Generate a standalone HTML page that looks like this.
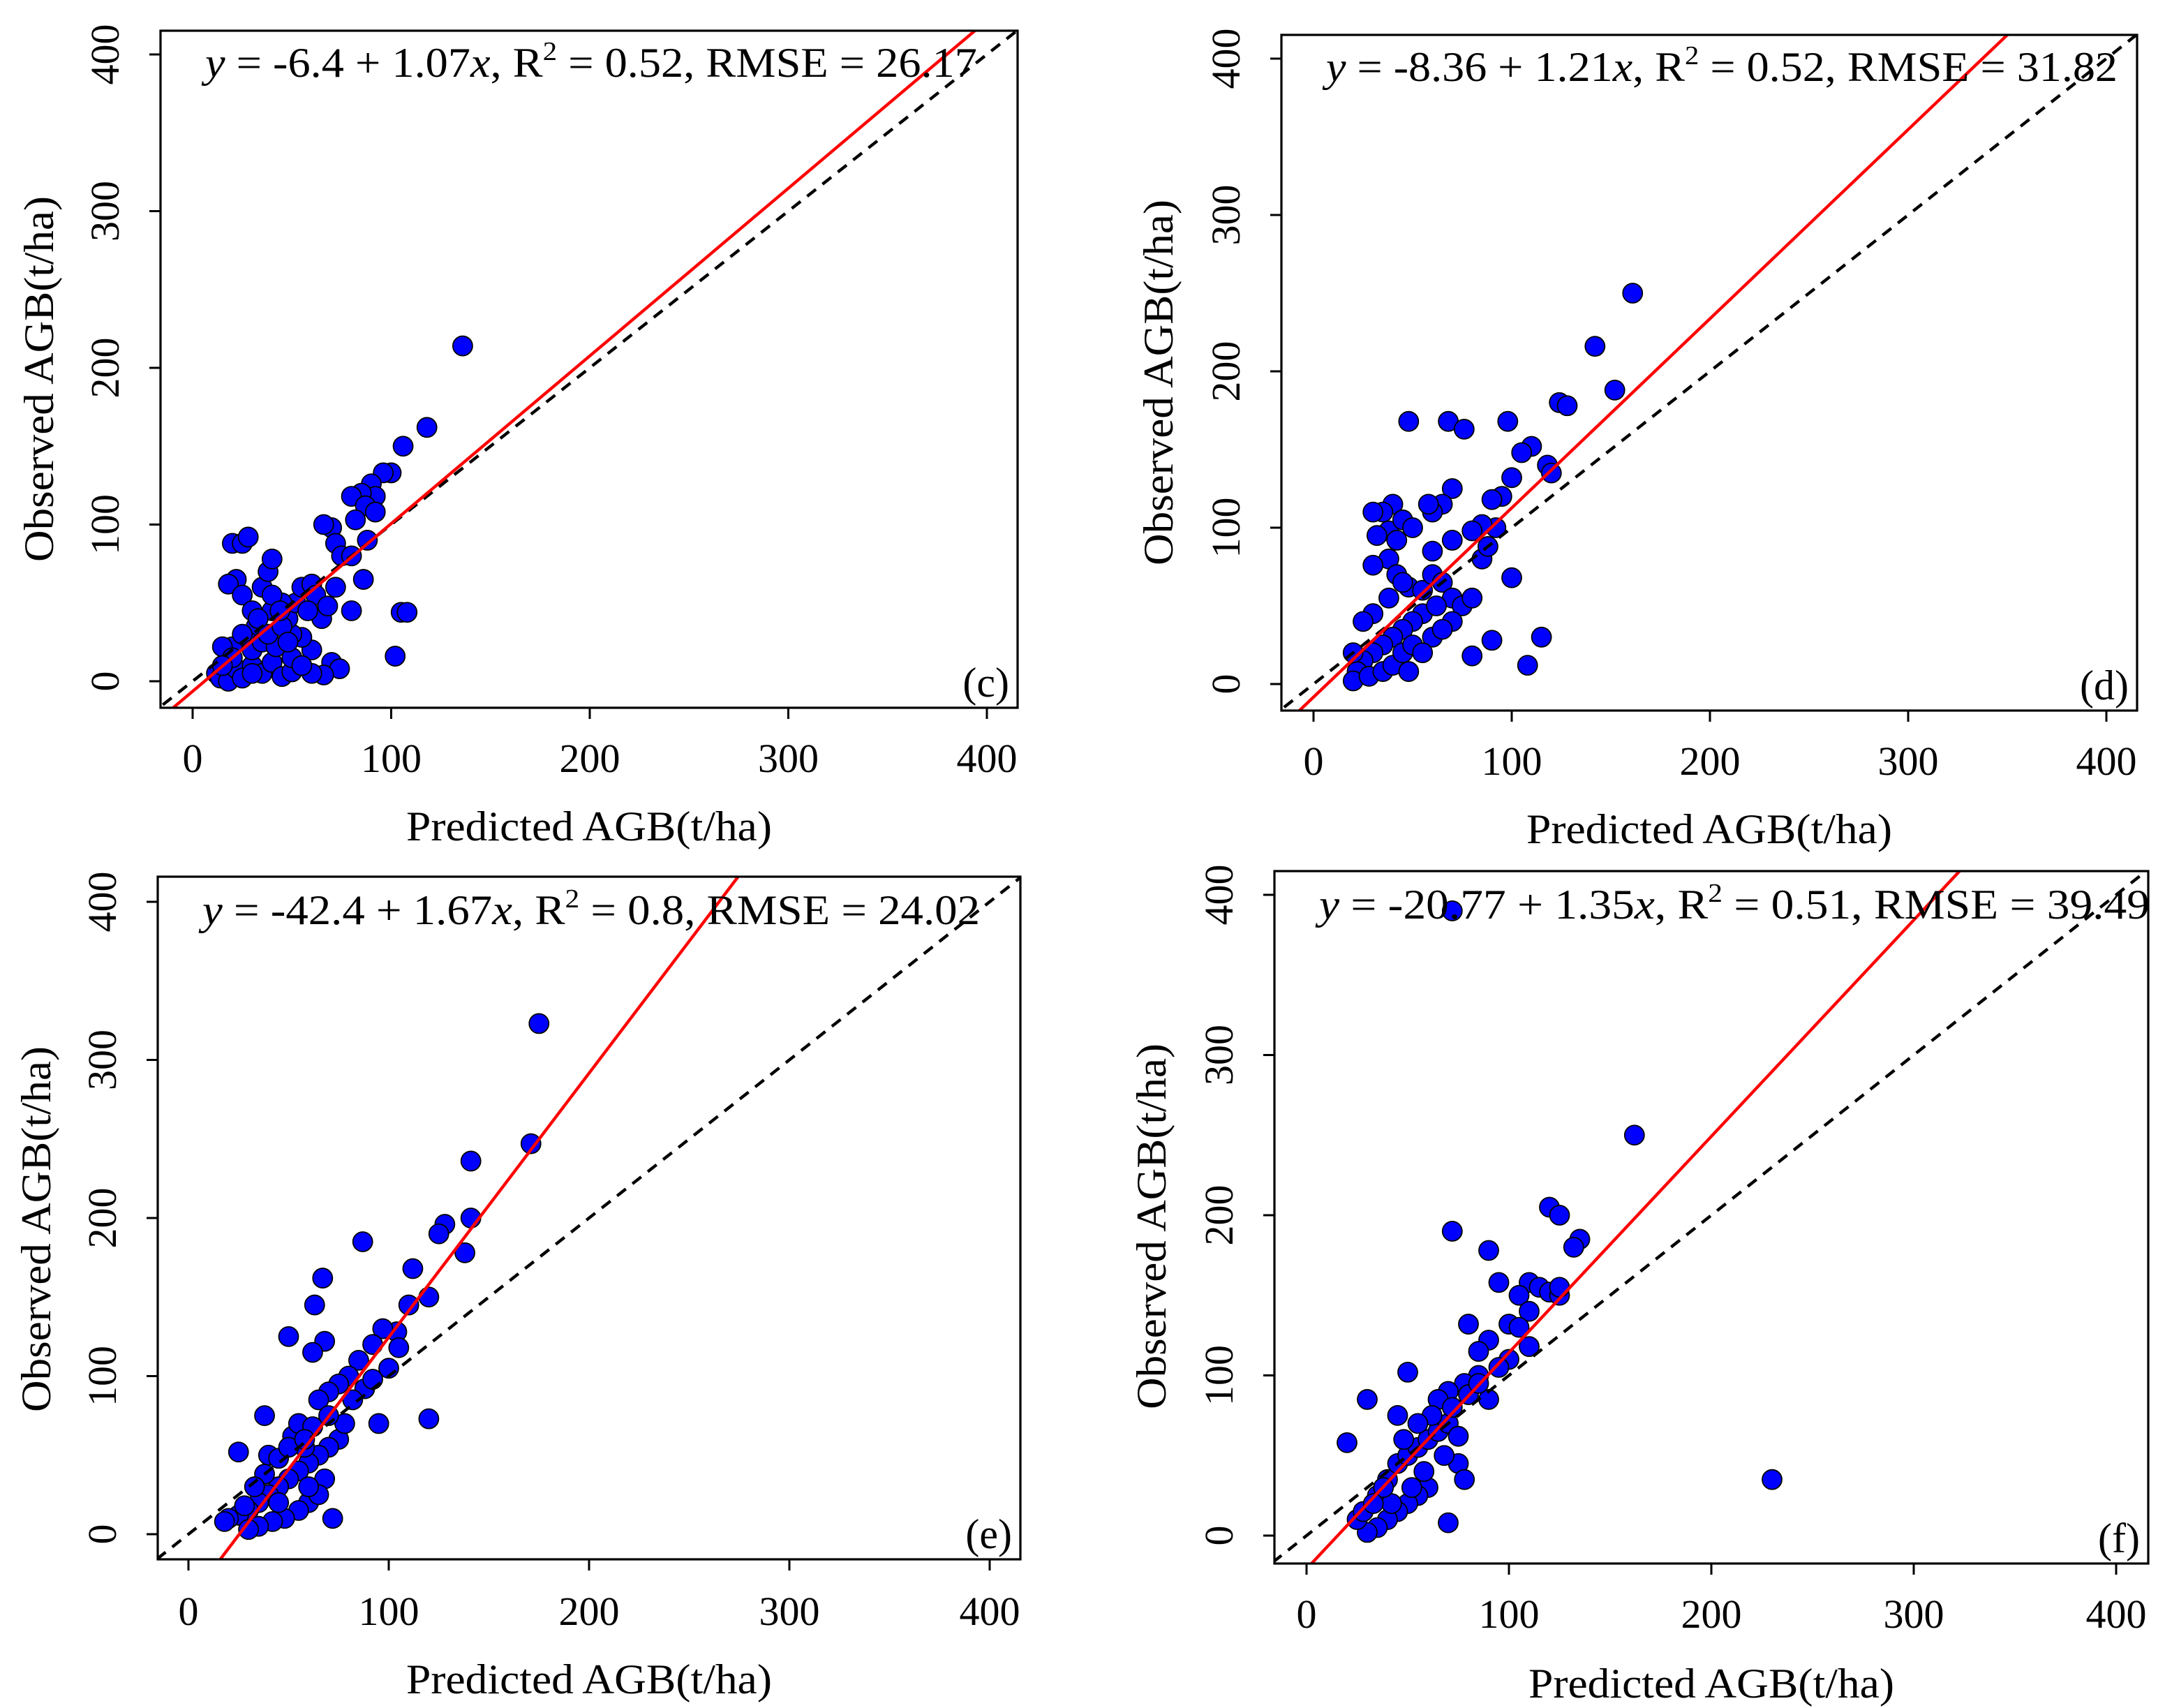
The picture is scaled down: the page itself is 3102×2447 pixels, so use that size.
<!DOCTYPE html>
<html><head><meta charset="utf-8"><style>
html,body{margin:0;padding:0;background:#fff;overflow:hidden;width:3102px;height:2447px}
svg{display:block}
text{font-family:"Liberation Serif",serif;fill:#000}
</style></head><body>
<svg id="chart" width="3102" height="2447" viewBox="0 0 1551 1223.5" xmlns="http://www.w3.org/2000/svg"></svg>
<script>
const tickValues=[0,100,200,300,400];
const cPred=[136,118,106,100,96,90,92,85,80,87,82,92,88,70,72,75,80,66,86,80,105,108,102,70,74,66,60,55,50,48,52,55,60,62,45,40,35,38,40,20,25,28,22,18,25,30,32,28,20,15,12,14,18,22,30,35,40,45,50,60,25,30,35,42,38,45,50,55,65,68,72,58,40,48,20,25,33,44,15,30];
const cObs=[214,162,150,133,133,126,118,120,118,112,103,108,90,98,88,80,80,100,65,45,44,44,16,12,8,4,20,28,30,40,50,60,62,55,50,45,60,70,78,88,88,92,65,62,55,45,35,25,22,22,5,2,0,8,10,5,12,3,6,5,30,20,25,22,30,35,15,10,40,48,60,45,55,25,15,2,40,45,10,5];
const dPred=[161,142,152,124,128,118,120,110,105,98,68,48,76,100,95,90,92,85,80,100,90,80,115,108,70,65,60,58,40,35,30,38,32,42,45,50,38,30,42,48,55,60,65,70,75,80,55,50,45,40,35,30,25,22,20,28,35,40,45,50,60,70,65,55,48,30,25,20,38,45,60,70,85,88,62];
const dObs=[250,216,188,180,178,140,135,152,148,168,168,168,163,132,120,118,100,102,98,68,28,18,30,12,125,115,110,115,115,110,110,98,95,92,105,100,80,76,70,62,60,70,65,55,50,55,45,40,35,30,25,20,15,8,2,5,8,12,20,25,30,40,35,20,8,45,40,20,55,65,85,92,80,88,50];
const ePred=[175,171,141,141,138,128,125,112,120,110,104,97,92,87,67,63,50,68,62,85,80,75,70,65,120,95,75,70,65,60,55,50,45,40,35,30,25,20,18,25,38,40,45,52,58,72,60,55,48,42,35,30,68,65,78,88,82,100,105,92,50,55,62,70,45,38,33,28,60,58];
const eObs=[323,247,236,200,178,196,190,168,150,145,128,130,120,185,162,145,125,122,115,110,100,95,90,85,73,70,60,55,50,45,40,35,30,25,20,15,12,10,8,52,75,50,48,62,55,10,20,15,10,8,5,3,35,25,70,92,85,105,118,98,55,70,68,75,20,38,30,18,30,60];
const fPred=[72,162,230,120,125,135,132,90,72,110,115,120,125,95,105,110,100,105,90,85,80,85,78,70,65,90,50,20,30,45,75,78,70,60,55,50,45,40,35,30,25,28,35,40,45,50,55,60,65,70,62,58,52,42,38,33,48,55,72,80,100,95,110,125,85,75,68];
const fObs=[390,250,35,205,200,185,180,178,190,158,155,152,150,158,150,140,132,130,122,115,132,100,95,90,85,85,102,58,85,75,45,35,8,30,25,20,15,10,5,2,10,15,25,35,45,50,55,60,65,70,75,40,30,20,30,20,60,70,80,88,110,105,118,155,95,62,50];

const panels=[
 {id:'c',pred:cPred,obs:cObs,a:-6.4,b:1.07,box:[115,22,729,507],x0:138,x4:707,y0:488,y4:39,eq:['-6.4','1.07','0.52','26.17'],ex:147,ey:55,ew:553,xt:553,xtitle:602,yt:85,ytitle:38},
 {id:'d',pred:dPred,obs:dObs,a:-8.36,b:1.21,box:[918,25,1531,509],x0:941,x4:1509,y0:490,y4:42,eq:['-8.36','1.21','0.52','31.82'],ex:950,ey:58,ew:567,xt:555,xtitle:604,yt:888,ytitle:840},
 {id:'e',pred:ePred,obs:eObs,a:-42.4,b:1.67,box:[113,628,731,1117],x0:135,x4:709,y0:1099,y4:646,eq:['-42.4','1.67','0.8','24.02'],ex:145,ey:662,ew:557,xt:1164,xtitle:1213,yt:83,ytitle:36},
 {id:'f',pred:fPred,obs:fObs,a:-20.77,b:1.35,box:[913,624,1539,1120],x0:936,x4:1516,y0:1100,y4:641,eq:['-20.77','1.35','0.51','39.49'],ex:945,ey:658,ew:595,xt:1166,xtitle:1216,yt:883,ytitle:835}
];
const NS='http://www.w3.org/2000/svg';
const svg=document.getElementById('chart');
function mk(tag,attrs,parent){const e=document.createElementNS(NS,tag);for(const k in attrs)e.setAttribute(k,attrs[k]);(parent||svg).appendChild(e);return e;}

panels.forEach(p=>{
 const X=v=>p.x0+(p.x4-p.x0)*v/400;
 const Y=v=>p.y0+(p.y4-p.y0)*v/400;
 const [L,T,R,B]=p.box;
 const g=mk('g',{});
 
 
 const cp=mk('clipPath',{id:'clip'+p.id},g);
 mk('rect',{x:L,y:T,width:R-L,height:B-T},cp);
 const pg=mk('g',{},g);
 
 
 p.pred.forEach((v,i)=>{
  const c=mk('circle',{cx:X(v),cy:Y(p.obs[i]),r:7,fill:'#0000ff',stroke:'#000','stroke-width':0.9},pg);
  
  
 });
 const l1=mk('line',{x1:X(-100),y1:Y(-100),x2:X(500),y2:Y(500),stroke:'#000','stroke-width':2.2,'stroke-dasharray':'8,6','clip-path':'url(#clip'+p.id+')'},g);
 
 
 const l2=mk('line',{x1:X(-100),y1:Y(p.a+p.b*-100),x2:X(500),y2:Y(p.a+p.b*500),stroke:'#ff0000','stroke-width':2.2,'clip-path':'url(#clip'+p.id+')'},g);
 
 
 const box=mk('rect',{x:L,y:T,width:R-L,height:B-T,fill:'none',stroke:'#000','stroke-width':1.6},g);
 
 
 tickValues.forEach(t=>{
  mk('line',{x1:X(t),y1:B,x2:X(t),y2:B+8,stroke:'#000','stroke-width':1.5},g);
  const xl=mk('text',{x:X(t),y:p.xt,'font-size':29,'text-anchor':'middle'},g);
  xl.textContent=t;
  
  
  mk('line',{x1:L,y1:Y(t),x2:L-8,y2:Y(t),stroke:'#000','stroke-width':1.5},g);
  const yl=mk('text',{x:p.yt,y:Y(t),'font-size':29,'text-anchor':'middle',transform:'rotate(-90 '+p.yt+' '+Y(t)+')'},g);
  yl.textContent=t;
  
  
 });
 const xt=mk('text',{x:(L+R)/2,y:p.xtitle,'font-size':30,'text-anchor':'middle',textLength:262,lengthAdjust:'spacingAndGlyphs'},g);
 xt.textContent='Predicted AGB(t/ha)';
 
 
 const ym=(Y(0)+Y(400))/2+8;
 const yt=mk('text',{x:p.ytitle,y:ym,'font-size':30,'text-anchor':'middle',textLength:262,lengthAdjust:'spacingAndGlyphs',transform:'rotate(-90 '+p.ytitle+' '+ym+')'},g);
 yt.textContent='Observed AGB(t/ha)';
 
 
 const eq=mk('text',{x:p.ex,y:p.ey,'font-size':30,textLength:p.ew,lengthAdjust:'spacingAndGlyphs'},g);
 
 
 eq.innerHTML='<tspan font-style="italic">y</tspan> = '+p.eq[0]+' + '+p.eq[1]+'<tspan font-style="italic">x</tspan>,  R<tspan font-size="19" dy="-12">2</tspan><tspan dy="12"> = '+p.eq[2]+',  RMSE = '+p.eq[3]+'</tspan>';
 const pl=mk('text',{x:R-6,y:B-8,'font-size':30,'text-anchor':'end'},g);
 pl.textContent='('+p.id+')';
 
 
});
</script>
</body></html>
